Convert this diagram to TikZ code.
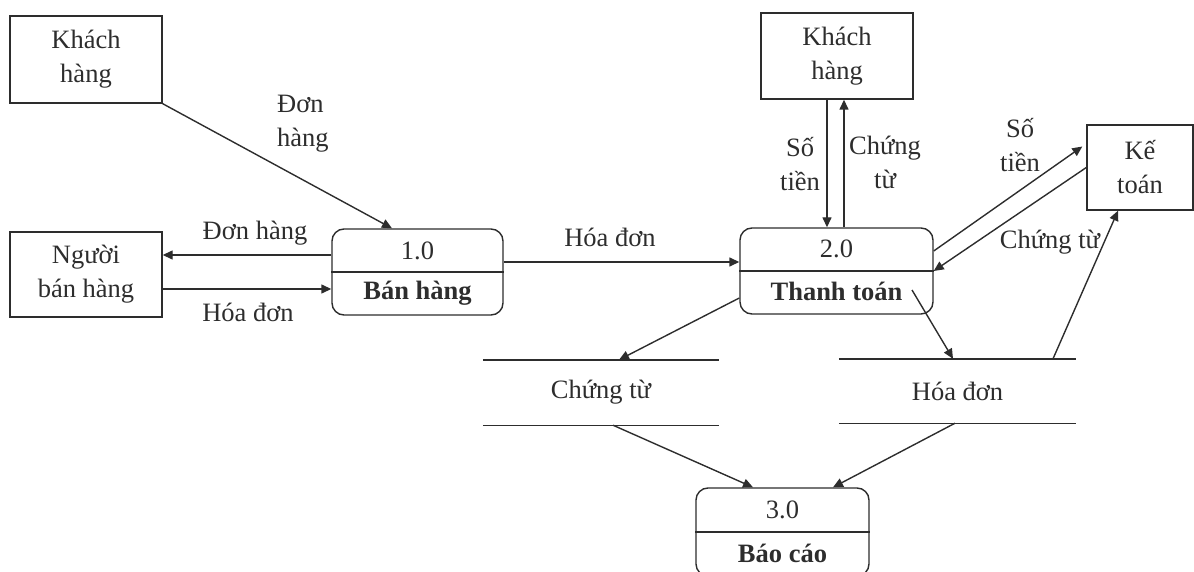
\documentclass[tikz,border=0pt]{standalone}
\usepackage{fontspec}
\setmainfont{Liberation Serif}
\usetikzlibrary{arrows.meta,calc}
\definecolor{inkc}{RGB}{45,45,45}
\newcommand\dfont{\fontsize{26.5}{34}\selectfont}
\begin{document}
\begin{tikzpicture}[x=1pt,y=-1pt,
  ink/.style={draw=inkc, line width=1.4pt},
  entity/.style={ink, rectangle, inner sep=0pt, align=center, font=\dfont, text=inkc},
  proc/.style={ink, rectangle, rounded corners=12pt, inner sep=0pt},
  store/.style={inner sep=0pt, font=\dfont, text=inkc},
  flow/.style={draw=inkc, line width=1.4pt, -{Triangle[length=10pt,width=9pt]}},
  lbl/.style={inner sep=0pt, align=center, font=\dfont, text=inkc},
  ptitle/.style={inner sep=0pt, font=\dfont, text=inkc},
  pname/.style={inner sep=0pt, font=\dfont\bfseries, text=inkc}]
\useasboundingbox (0,0) rectangle (1194,572);

% external entities
\node[entity, minimum width=152pt, minimum height=87pt] (kh1) at (86,59.5) {Khách\\hàng};
\node[entity, minimum width=152pt, minimum height=85pt] (nbh) at (86,274.5) {Người\\bán hàng};
\node[entity, minimum width=152pt, minimum height=86pt] (kh2) at (837,56) {Khách\\hàng};
\node[entity, minimum width=106pt, minimum height=85pt] (kt) at (1140,167.5) {Kế\\toán};

% processes
\node[proc, minimum width=171pt, minimum height=86pt] (p1) at (417.5,272) {};
\draw[ink] (p1.west) -- (p1.east);
\node[ptitle] (p1n) at ([yshift=21pt]p1.center) {1.0};
\node[pname] (p1t) at ([yshift=-21pt]p1.center) {Bán hàng};

\node[proc, minimum width=193pt, minimum height=86pt] (p2) at (836.5,271) {};
\draw[ink] (p2.west) -- (p2.east);
\node[ptitle] (p2n) at ([yshift=22pt]p2.center) {2.0};
\node[pname] (p2t) at ([yshift=-20pt]p2.center) {Thanh toán};

\node[proc, minimum width=173pt, minimum height=88pt] (p3) at (782.5,532) {};
\draw[ink] (p3.west) -- (p3.east);
\node[ptitle] (p3n) at ([yshift=22pt]p3.center) {3.0};
\node[pname] (p3t) at ([yshift=-21pt]p3.center) {Báo cáo};

% data stores
\node[store, minimum width=236pt, minimum height=65pt] (cts) at (601,392.5) {Chứng từ};
\draw[ink] (cts.north west) -- (cts.north east);
\draw[ink] (cts.south west) -- (cts.south east);
\node[store, minimum width=237pt, minimum height=64pt] (hds) at (957.5,391) {Hóa đơn};
\draw[ink] (hds.north west) -- (hds.north east);
\draw[ink] (hds.south west) -- (hds.south east);

\coordinate (p2out) at ([xshift=75.5pt,yshift=-19pt]p2.center);

% data flows
\draw[flow] (kh1.south east) -- ([xshift=-25.5pt]p1.north);
\draw[flow] ([yshift=17pt]p1.west) -- ([yshift=17pt]p1.west -| nbh.east);
\draw[flow] ([yshift=-17pt]p1.west -| nbh.east) -- ([yshift=-17pt]p1.west);
\draw[flow] ([yshift=9pt]p2.west -| p1.east) -- ([yshift=9pt]p2.west);
\draw[flow] ([xshift=-10pt]kh2.south) -- ([xshift=-10pt]kh2.south |- p2.north);
\draw[flow] ([xshift=7pt]kh2.south |- p2.north) -- ([xshift=7pt]kh2.south);
\draw[flow] ([yshift=20pt]p2.east) -- ([xshift=-4pt,yshift=21pt]kt.west);
\draw[flow] (kt.west) -- (p2.east);
\draw[flow] ([yshift=-27pt]p2.west) -- ([xshift=18pt]cts.north);
\draw[flow] (p2out) -- ([xshift=-4.5pt]hds.north);
\draw[flow] ([xshift=95.5pt]hds.north) -- ([xshift=-22pt]kt.south);
\draw[flow] ([xshift=12pt]cts.south) -- ([xshift=-29.5pt]p3.north);
\draw[flow] ([xshift=-2.5pt]hds.south) -- ([xshift=50.5pt]p3.north);

% flow labels
\node[lbl, align=left, anchor=west] (l1) at (277,124) {Đơn\\hàng};
\node[lbl] (l2) at (255,233) {Đơn hàng};
\node[lbl] (l3) at (248,312) {Hóa đơn};
\node[lbl] (l4) at (610,237) {Hóa đơn};
\node[lbl] (l5) at (800,164) {Số\\tiền};
\node[lbl] (l6) at (885,162) {Chứng\\từ};
\node[lbl] (l7) at (1020,145) {Số\\tiền};
\node[lbl] (l8) at (1050,242) {Chứng từ};
\end{tikzpicture}
\end{document}
